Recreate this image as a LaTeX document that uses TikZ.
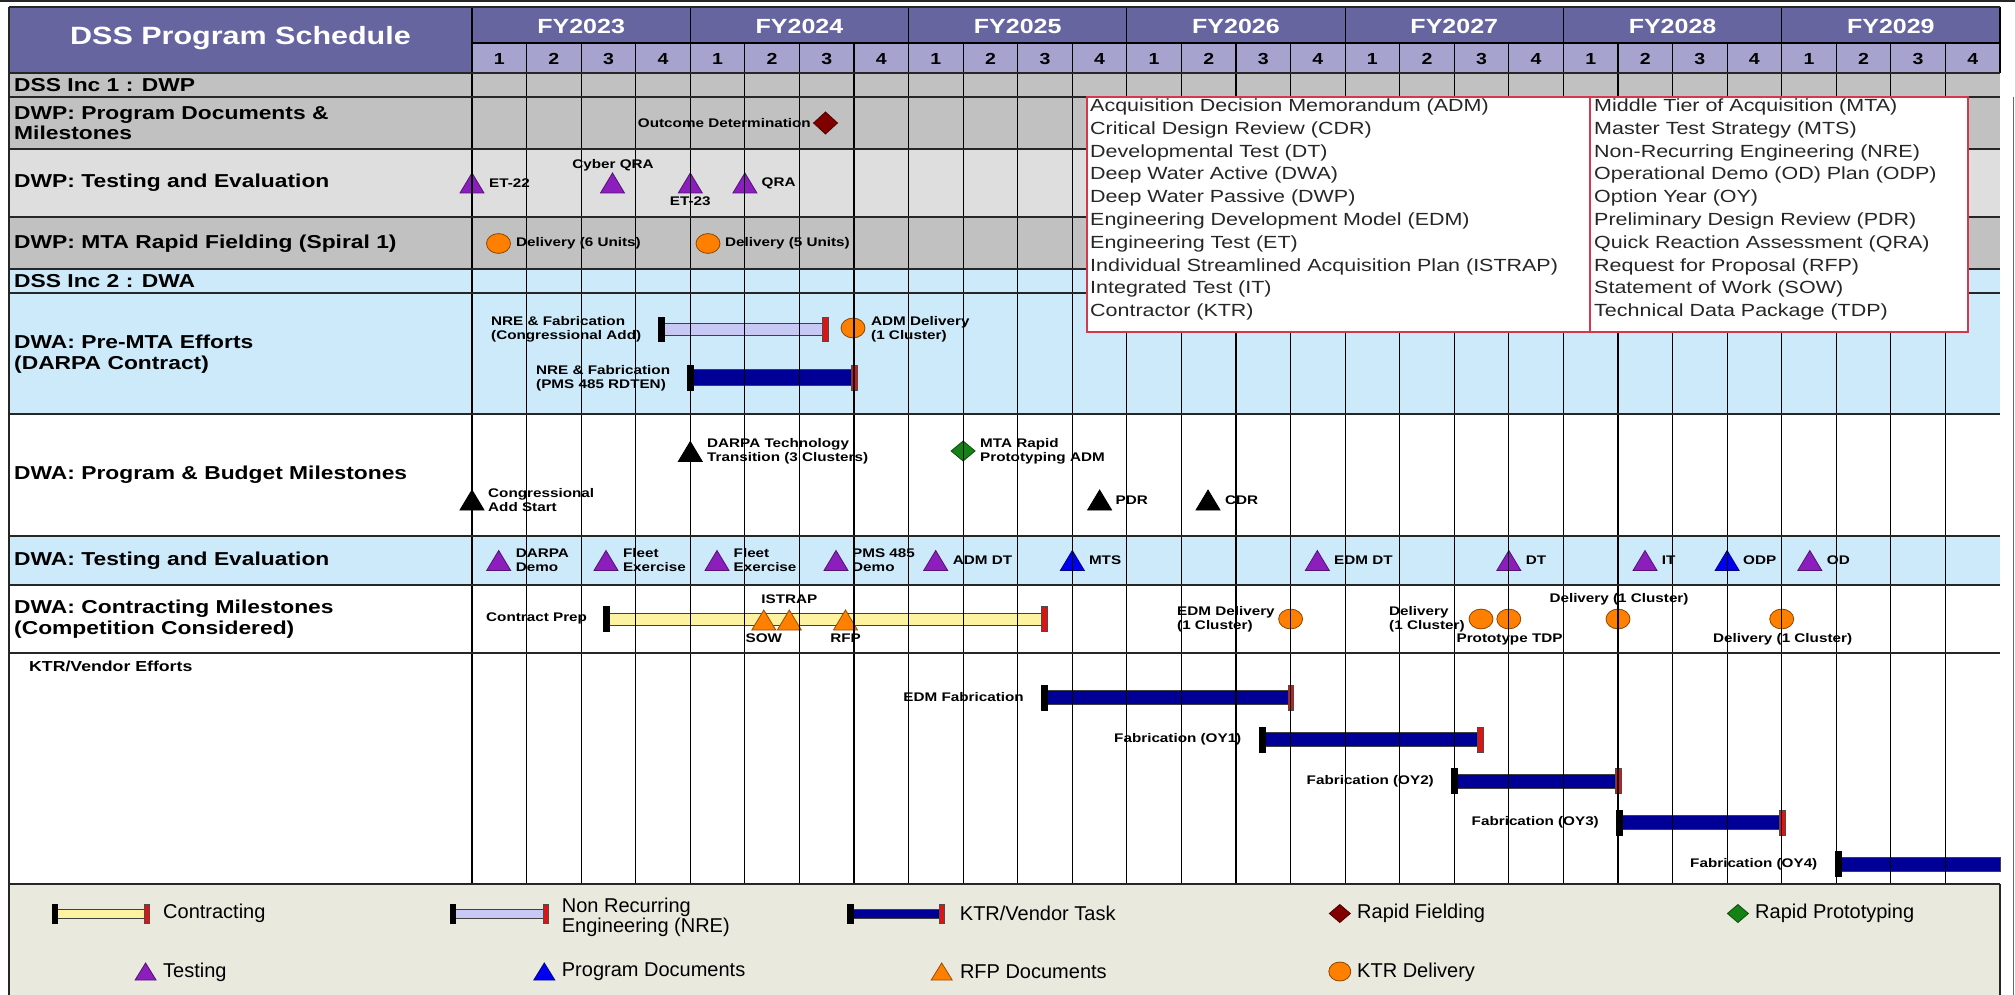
\documentclass[tikz,border=0pt]{standalone}
\usepackage{fontspec}
\setmainfont{Liberation Sans}[FakeStretch=1.22]
\newfontfamily\legfont{Liberation Sans}
\newcommand\myfs[2]{\fontsize{#1}{#2}\selectfont}
\definecolor{hdr}{RGB}{102,101,160}
\definecolor{qrow}{RGB}{166,164,206}
\definecolor{grayA}{RGB}{193,193,193}
\definecolor{grayB}{RGB}{222,222,222}
\definecolor{lblue}{RGB}{204,234,250}
\definecolor{legbg}{RGB}{233,233,222}
\definecolor{purp}{RGB}{140,30,190}
\definecolor{orng}{RGB}{255,128,0}
\definecolor{navy}{RGB}{0,0,150}
\definecolor{lav}{RGB}{200,200,245}
\definecolor{ylw}{RGB}{253,242,160}
\definecolor{capred}{RGB}{220,20,20}
\definecolor{dred}{RGB}{128,0,0}
\definecolor{grn}{RGB}{20,130,20}
\definecolor{mblue}{RGB}{0,0,240}
\definecolor{acrred}{RGB}{215,55,75}
% markers: x, y, half width, half height, colour
\newcommand\mtri[5]{\filldraw[fill=#5,draw=#5!60!black,line width=0.8pt] (#1-#3,#2+#4) -- (#1,#2-#4) -- (#1+#3,#2+#4) -- cycle;}
\newcommand\mdia[5]{\filldraw[fill=#5,draw=#5!60!black,line width=0.8pt] (#1-#3,#2) -- (#1,#2-#4) -- (#1+#3,#2) -- (#1,#2+#4) -- cycle;}
\newcommand\mcirc[2]{\filldraw[fill=orng,draw=orng!55!black,line width=0.8pt] (#1,#2) ellipse [x radius=12pt, y radius=9.9pt];}
% bar: x1, x2, y, fill, half height, cap half height
\newcommand\gbar[6]{%
 \filldraw[fill=#4,draw=black!75,line width=0.8pt] (#1,#3-#5) rectangle (#2,#3+#5);
 \filldraw[fill=black,draw=black,line width=0.5pt] (#1-2.8,#3-#6) rectangle (#1+2.8,#3+#6);
 \filldraw[fill=capred,draw=black!70,line width=0.5pt] (#2-2.8,#3-#6) rectangle (#2+2.8,#3+#6);}
\begin{document}
\begin{tikzpicture}[x=1pt,y=-1pt,
 title/.style={font=\myfs{25}{28}\bfseries, text=white, inner sep=0pt},
 rowlab/.style={font=\myfs{18.7}{21.5}\bfseries, anchor=west, align=left, inner sep=0pt},
 lab/.style={font=\myfs{12.5}{14}\bfseries, anchor=west, align=left, inner sep=0pt},
 clab/.style={lab, anchor=center, align=center},
 elab/.style={lab, anchor=east, align=right},
 acr/.style={font=\myfs{17.6}{20}, anchor=west, inner sep=0pt, text=black!85},
 leg/.style={font={\legfont\myfs{20}{18.3}}, anchor=west, align=left, inner sep=0pt},
 fy/.style={font=\myfs{20.5}{22}\bfseries, text=white, inner sep=0pt},
 qn/.style={font=\myfs{16}{18}\bfseries, inner sep=0pt},
 rowline/.style={draw=black!85, line width=1.6pt},
 gridline/.style={draw=black, line width=1.2pt}]
\useasboundingbox (0,0) rectangle (2015,995);
\fill[white] (0,0) rectangle (2015,995);
% ---------- backgrounds
\fill[hdr] (9,7) rectangle (2000,43);
\fill[hdr] (9,43) rectangle (472,73);
\fill[qrow] (472,43) rectangle (2000,73);
\fill[grayA] (9,73) rectangle (2000,149);
\fill[grayB] (9,149) rectangle (2000,217);
\fill[grayA] (9,217) rectangle (2000,269);
\fill[lblue] (9,269) rectangle (2000,414);
\fill[lblue] (9,536) rectangle (2000,585);
\fill[legbg] (9,884) rectangle (2000,995);
% ---------- header text
\node[title] (title) at (240.5,38) {DSS Program Schedule};
\foreach \f [count=\i from 0] in {2023,2024,2025,2026,2027,2028,2029}
  \node[fy] (fy\f) at ({472+218.28*\i+109.14},26) {FY\f};
\foreach \k in {0,...,27}{\pgfmathtruncatemacro\qq{mod(\k,4)+1}
  \node[qn] (q\k) at ({472+54.57*\k+27.285},59) {\qq};}
% ---------- row labels
\node[rowlab] (r1) at (14,85.5) {DSS Inc 1 : DWP};
\node[rowlab, font=\myfs{18.7}{20}\bfseries] (r2) at (14,123) {DWP: Program Documents \&\\Milestones};
\node[rowlab] (r3) at (14,183) {DWP: Testing and Evaluation};
\node[rowlab] (r4) at (14,243.5) {DWP: MTA Rapid Fielding (Spiral 1)};
\node[rowlab] (r5) at (14,281) {DSS Inc 2 : DWA};
\node[rowlab] (r6) at (14,354) {DWA: Pre-MTA Efforts\\(DARPA Contract)};
\node[rowlab] (r7) at (14,475) {DWA: Program \& Budget Milestones};
\node[rowlab] (r8) at (14,561) {DWA: Testing and Evaluation};
\node[rowlab] (r9) at (14,619) {DWA: Contracting Milestones\\(Competition Considered)};
\node[lab, font=\myfs{14.5}{16}\bfseries] (r10) at (29,666) {KTR/Vendor Efforts};
% ---------- DWP program documents
\node[elab] (outc) at (811,123) {Outcome Determination};
\mdia{825.5}{123}{12}{11}{dred}
% ---------- DWP testing
\mtri{472}{183}{12}{10}{purp}
\node[lab] (et22) at (489,183) {ET-22};
\mtri{612.5}{183}{12}{10}{purp}
\node[clab] (cqra) at (613,165) {Cyber QRA};
\mtri{690.3}{183}{12}{10}{purp}
\node[clab] (et23) at (690.3,201.5) {ET-23};
\mtri{744.9}{183}{12}{10}{purp}
\node[lab] (qra) at (761.5,183) {QRA};
% ---------- DWP MTA rapid fielding
\mcirc{498.5}{243.5}
\node[lab] (del6) at (516,243.5) {Delivery (6 Units)};
\mcirc{708}{243.5}
\node[lab] (del5) at (725,243.5) {Delivery (5 Units)};
% ---------- DWA pre-MTA
\node[lab] (nre1) at (491,329.5) {NRE \& Fabrication\\(Congressional Add)};
\gbar{661}{825}{329}{lav}{6}{12}
\mcirc{853}{328}
\node[lab] (admd) at (871,329.5) {ADM Delivery\\(1 Cluster)};
\node[lab] (nre2) at (536,378) {NRE \& Fabrication\\(PMS 485 RDTEN)};
\gbar{690.3}{854}{377.5}{navy}{8}{12.5}
% ---------- DWA program & budget
\mtri{690.3}{451.5}{12}{10}{black}
\node[lab] (darpa) at (707,451) {DARPA Technology\\Transition (3 Clusters)};
\mdia{963.1}{451}{12}{10}{grn}
\node[lab] (mtarp) at (980,451) {MTA Rapid\\Prototyping ADM};
\mtri{1099.6}{500}{12}{10}{black}
\node[lab] (pdr) at (1115.5,500) {PDR};
\mtri{1208}{500}{12}{10}{black}
\node[lab] (cdr) at (1225,500) {CDR};
\mtri{472}{500}{12}{10}{black}
\node[lab] (cas) at (488,500) {Congressional\\Add Start};
% ---------- DWA testing
\mtri{498.7}{560.5}{12}{10}{purp}
\node[lab] (dd) at (515.6,560) {DARPA\\Demo};
\mtri{606}{560.5}{12}{10}{purp}
\node[lab] (fe1) at (622.8,560) {Fleet\\Exercise};
\mtri{717}{560.5}{12}{10}{purp}
\node[lab] (fe2) at (733.5,560) {Fleet\\Exercise};
\mtri{836}{560.5}{12}{10}{purp}
\node[lab] (pmsd) at (852,560) {PMS 485\\Demo};
\mtri{935.7}{560.5}{12}{10}{purp}
\node[lab] (admdt) at (952.7,560.5) {ADM DT};
\mtri{1072.3}{560.5}{12}{10}{mblue}
\node[lab] (mts) at (1088.8,560.5) {MTS};
\mtri{1317.3}{560.5}{12}{10}{purp}
\node[lab] (edmdt) at (1334,560.5) {EDM DT};
\mtri{1508.8}{560.5}{12}{10}{purp}
\node[lab] (dt) at (1525.7,560.5) {DT};
\mtri{1645}{560.5}{12}{10}{purp}
\node[lab] (it) at (1661.6,560.5) {IT};
\mtri{1727.1}{560.5}{12}{10}{mblue}
\node[lab] (odp) at (1743,560.5) {ODP};
\mtri{1809.8}{560.5}{12}{10}{purp}
\node[lab] (od) at (1826.7,560.5) {OD};
% ---------- DWA contracting
\node[lab] (cprep) at (486,618.5) {Contract Prep};
\gbar{606}{1044}{619}{ylw}{6}{12.5}
\mtri{763.8}{620}{12}{10}{orng}
\mtri{789.3}{620}{12}{10}{orng}
\mtri{845.5}{620}{12}{10}{orng}
\node[clab] (istrap) at (789.3,599) {ISTRAP};
\node[clab] (sow) at (763.8,638.5) {SOW};
\node[clab] (rfp) at (845.5,638.5) {RFP};
\mcirc{1290.6}{619}
\node[lab] (edmd) at (1177,619) {EDM Delivery\\(1 Cluster)};
\node[lab] (dl1) at (1389,619) {Delivery\\(1 Cluster)};
\mcirc{1481}{619}
\mcirc{1508.8}{619}
\node[lab] (ptdp) at (1456.4,639) {Prototype TDP};
\mcirc{1618}{619}
\node[clab] (dl2) at (1619,599.5) {Delivery (1 Cluster)};
\mcirc{1781.7}{619}
\node[clab] (dl3) at (1782.6,639) {Delivery (1 Cluster)};
% ---------- KTR / vendor efforts
\node[elab] (edmf) at (1024,697.5) {EDM Fabrication};
\gbar{1044}{1290.6}{697.5}{navy}{7}{12.5}
\node[elab] (oy1) at (1241.5,739.5) {Fabrication (OY1)};
\gbar{1262}{1480}{739.5}{navy}{7}{12.5}
\node[elab] (oy2) at (1434,781) {Fabrication (OY2)};
\gbar{1454}{1618}{781}{navy}{7}{12.5}
\node[elab] (oy3) at (1599,822.5) {Fabrication (OY3)};
\gbar{1619}{1782}{822.5}{navy}{7}{12.5}
\node[elab] (oy4) at (1817.5,864) {Fabrication (OY4)};
\filldraw[fill=navy,draw=black!75,line width=0.8pt] (1838,857) rectangle (2000,871);
\filldraw[fill=black,draw=black,line width=0.5pt] (1835.2,851.5) rectangle (1840.8,876.5);
% ---------- grid lines
\foreach \k in {0,...,27} \draw[gridline] ({472+54.57*\k},43) -- ({472+54.57*\k},884);
\foreach \i in {0,...,7} \draw[gridline] ({472+218.28*\i},7) -- ({472+218.28*\i},43);
\draw[gridline] (2000,7) -- (2000,73);
\draw[gridline] (472,43) -- (2000,43);
% ---------- row lines and frame
\foreach \y in {73,97,149,217,269,293,414,536,585,653,884} \draw[rowline] (9,\y) -- (2000,\y);
\draw[rowline] (9,7) -- (2000,7);
\draw[rowline] (9,7) -- (9,995);
\draw[rowline] (2000,884) -- (2000,995);
\draw[black!60, line width=1pt] (2013,97) -- (2013,995);
\draw[black!85, line width=2pt] (0,1) -- (2015,1);
% ---------- acronym box
\filldraw[fill=white, draw=acrred, line width=1.2pt] (1087,97) rectangle (1968,332);
\draw[acrred, line width=1.2pt] (1590,97) -- (1590,332);
\foreach \t [count=\i from 0] in {Acquisition Decision Memorandum (ADM), Critical Design Review (CDR), Developmental Test (DT), Deep Water Active (DWA), Deep Water Passive (DWP), Engineering Development Model (EDM), Engineering Test (ET), Individual Streamlined Acquisition Plan (ISTRAP), Integrated Test (IT), Contractor (KTR)}
  \node[acr] (acl\i) at (1090,{107+22.8*\i}) {\t};
\foreach \t [count=\i from 0] in {Middle Tier of Acquisition (MTA), Master Test Strategy (MTS), Non-Recurring Engineering (NRE), Operational Demo (OD) Plan (ODP), Option Year (OY), Preliminary Design Review (PDR), Quick Reaction Assessment (QRA), Request for Proposal (RFP), Statement of Work (SOW), Technical Data Package (TDP)}
  \node[acr] (acr\i) at (1594,{107+22.8*\i}) {\t};
% ---------- legend
\gbar{54.7}{146.9}{913.5}{ylw}{4.5}{9.7}
\node[leg] (lcon) at (163,913.5) {Contracting};
\gbar{452.8}{545.6}{913.5}{lav}{4.5}{9.7}
\node[leg] (lnre) at (561.7,917) {Non Recurring\\Engineering (NRE)};
\gbar{850}{941.7}{913.5}{navy}{4.5}{9.7}
\node[leg] (lktr) at (959.7,913.5) {KTR/Vendor Task};
\mdia{1339.8}{913.5}{10.5}{9}{dred}
\node[leg] (lrf) at (1357,913.5) {Rapid Fielding};
\mdia{1737.9}{913.5}{10.5}{9}{grn}
\node[leg] (lrp) at (1755,913.5) {Rapid Prototyping};
\mtri{145.6}{971.5}{10.5}{8.5}{purp}
\node[leg] (lts) at (163,972) {Testing};
\mtri{544.3}{971.5}{10.5}{8.5}{mblue}
\node[leg] (lpd) at (561.7,972) {Program Documents};
\mtri{941.7}{971.5}{10.5}{8.5}{orng}
\node[leg] (lrfp) at (959.8,972) {RFP Documents};
\filldraw[fill=orng,draw=orng!55!black,line width=0.8pt] (1339.8,971.5) ellipse [x radius=11pt, y radius=9.5pt];
\node[leg] (lkd) at (1357,972) {KTR Delivery};
\end{tikzpicture}
\end{document}
